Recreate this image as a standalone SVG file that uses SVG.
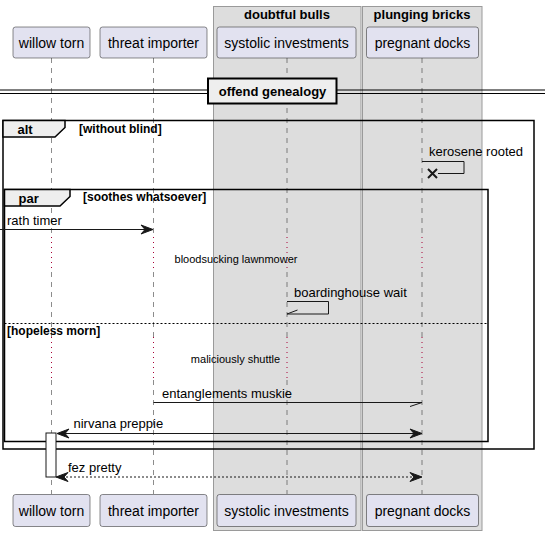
<svg xmlns="http://www.w3.org/2000/svg" width="550" height="536" viewBox="0 0 550 536">
<defs>
<style>
.pbox{fill:#E2E2F0;stroke:#181818;stroke-width:0.5}
.ptxt{font-family:"Liberation Sans",Arial,sans-serif;font-size:14px;fill:#000;text-anchor:middle}
.gbox{fill:#DDDDDD;stroke:#9A9A9A;stroke-width:1}
.gtxt{font-family:"Liberation Sans",Arial,sans-serif;font-size:13px;font-weight:bold;fill:#000;text-anchor:middle}
.life{stroke:#181818;stroke-width:0.5;stroke-dasharray:5,5;fill:none}
.delay{stroke:#A80036;stroke-width:1;stroke-dasharray:1,4;fill:none}
.msg{stroke:#181818;stroke-width:1;fill:none}
.dmsg{stroke:#181818;stroke-width:1;fill:none;stroke-dasharray:2,2}
.head{fill:#181818;stroke:#181818;stroke-width:1}
.mtxt{font-family:"Liberation Sans",Arial,sans-serif;font-size:13px;fill:#000}
.small{font-family:"Liberation Sans",Arial,sans-serif;font-size:11px;fill:#000;text-anchor:middle}
.frame{fill:none;stroke:#000;stroke-width:1.5}
.tab{fill:#EEEEEE;stroke:#000;stroke-width:1.5}
.ftxt{font-family:"Liberation Sans",Arial,sans-serif;font-size:13px;font-weight:bold;fill:#000}
.ctxt{font-family:"Liberation Sans",Arial,sans-serif;font-size:12px;font-weight:bold;fill:#000}
</style>
</defs>
<rect width="550" height="536" fill="#FFFFFF"/>
<g id="group-doubtful-bulls">
<rect class="gbox" x="213.5" y="6.5" width="147.5" height="524"/>
<text class="gtxt" x="287" y="19">doubtful bulls</text>
</g>
<g id="group-plunging-bricks">
<rect class="gbox" x="362.5" y="6.5" width="119.5" height="524"/>
<text class="gtxt" x="422" y="19">plunging bricks</text>
</g>
<g id="lifelines">
<path class="life" d="M51.5,58 V237 M51.5,272 V337 M51.5,380 V494"/>
<path class="life" d="M153.5,58 V237 M153.5,272 V337 M153.5,380 V494"/>
<path class="life" d="M287,58 V237 M287,272 V337 M287,380 V494"/>
<path class="life" d="M422,58 V237 M422,272 V337 M422,380 V494"/>
<path class="delay" d="M51.5,237 V272 M153.5,237 V272 M287,237 V272 M422,237 V272"/>
<path class="delay" d="M51.5,337 V380 M153.5,337 V380 M287,337 V380 M422,337 V380"/>
</g>
<g id="p-willow-torn">
<rect class="pbox" x="13" y="27" width="77" height="31" rx="2.5"/>
<text class="ptxt" x="51.5" y="47.5">willow torn</text>
<rect class="pbox" x="13" y="494.5" width="77" height="32" rx="2.5"/>
<text class="ptxt" x="51.5" y="515.5">willow torn</text>
</g>
<g id="p-threat-importer">
<rect class="pbox" x="100" y="27" width="107" height="31" rx="2.5"/>
<text class="ptxt" x="153.5" y="47.5">threat importer</text>
<rect class="pbox" x="100" y="494.5" width="107" height="32" rx="2.5"/>
<text class="ptxt" x="153.5" y="515.5">threat importer</text>
</g>
<g id="p-systolic-investments">
<rect class="pbox" x="217" y="27" width="139" height="31" rx="2.5"/>
<text class="ptxt" x="286.5" y="47.5">systolic investments</text>
<rect class="pbox" x="217" y="494.5" width="139" height="32" rx="2.5"/>
<text class="ptxt" x="286.5" y="515.5">systolic investments</text>
</g>
<g id="p-pregnant-docks">
<rect class="pbox" x="366.5" y="27" width="112" height="31" rx="2.5"/>
<text class="ptxt" x="422.5" y="47.5">pregnant docks</text>
<rect class="pbox" x="366.5" y="494.5" width="112" height="32" rx="2.5"/>
<text class="ptxt" x="422.5" y="515.5">pregnant docks</text>
</g>
<g id="divider-offend-genealogy">
<line x1="0" y1="90" x2="545" y2="90" stroke="#000" stroke-width="1"/>
<line x1="0" y1="93.5" x2="545" y2="93.5" stroke="#000" stroke-width="1"/>
<rect x="208" y="78.5" width="128.5" height="25" fill="#EEEEEE" stroke="#000" stroke-width="2"/>
<text class="gtxt" x="272.5" y="96">offend genealogy</text>
</g>
<g id="frame-alt">
<rect class="frame" x="3" y="120.5" width="531" height="328.5"/>
<path class="tab" d="M3,120.5 H65 V127.5 L55,137 H3 Z"/>
<text class="ftxt" x="17.5" y="133.5">alt</text>
<text class="ctxt" x="79" y="133">[without blind]</text>
</g>
<g id="frame-par">
<rect class="frame" x="4.5" y="189.5" width="483.5" height="252"/>
<path class="tab" d="M4.5,189.5 H70 V196.5 L60,206 H4.5 Z"/>
<text class="ftxt" x="18.5" y="202.5">par</text>
<text class="ctxt" x="83" y="200.5">[soothes whatsoever]</text>
<line x1="4.5" y1="323.5" x2="488" y2="323.5" stroke="#000" stroke-width="1" stroke-dasharray="2,2"/>
<text class="ctxt" x="7" y="335">[hopeless morn]</text>
</g>
<g id="activation-willow-torn">
<rect x="46" y="433" width="10" height="44" fill="#FFFFFF" stroke="#181818" stroke-width="1"/>
</g>
<g id="connectors">
<g id="m-kerosene-rooted">
<polyline class="msg" points="422,161.5 464,161.5 464,173.5 438,173.5"/>
<path d="M428,169 L437,178 M428,178 L437,169" stroke="#181818" stroke-width="2" fill="none"/>
<text class="mtxt" x="429" y="155.5">kerosene rooted</text>
</g>
<g id="m-rath-timer">
<line class="msg" x1="0" y1="229.5" x2="151" y2="229.5"/>
<polygon class="head" points="153,229.5 141,225 145,229.5 141,234"/>
<text class="mtxt" x="7" y="225">rath timer</text>
</g>
<g id="d-bloodsucking">
<text class="small" x="236" y="262.5">bloodsucking lawnmower</text>
</g>
<g id="m-boardinghouse-wait">
<polyline class="msg" points="287,301.5 328.5,301.5 328.5,314 287,314"/>
<line class="msg" x1="287" y1="314" x2="297.5" y2="310"/>
<text class="mtxt" x="294" y="296.5">boardinghouse wait</text>
</g>
<g id="d-maliciously">
<text class="small" x="235.5" y="362.5">maliciously shuttle</text>
</g>
<g id="m-entanglements">
<line class="msg" x1="153.5" y1="402.5" x2="422" y2="402.5"/>
<line class="msg" x1="422" y1="402.5" x2="410" y2="406.5"/>
<text class="mtxt" x="162" y="397.5">entanglements muskie</text>
</g>
<g id="m-nirvana-preppie">
<line class="msg" x1="58" y1="433.5" x2="420" y2="433.5"/>
<polygon class="head" points="57,433.5 69,429 65,433.5 69,438"/>
<polygon class="head" points="422,433.5 410,429 414,433.5 410,438"/>
<text class="mtxt" x="73.5" y="427.5">nirvana preppie</text>
</g>
<g id="m-fez-pretty">
<line class="dmsg" x1="58" y1="477" x2="420" y2="477"/>
<polygon class="head" points="56,477 68,472.5 64,477 68,481.5"/>
<polygon class="head" points="422,477 410,472.5 414,477 410,481.5"/>
<text class="mtxt" x="68" y="472">fez pretty</text>
</g>
</g>
</svg>
